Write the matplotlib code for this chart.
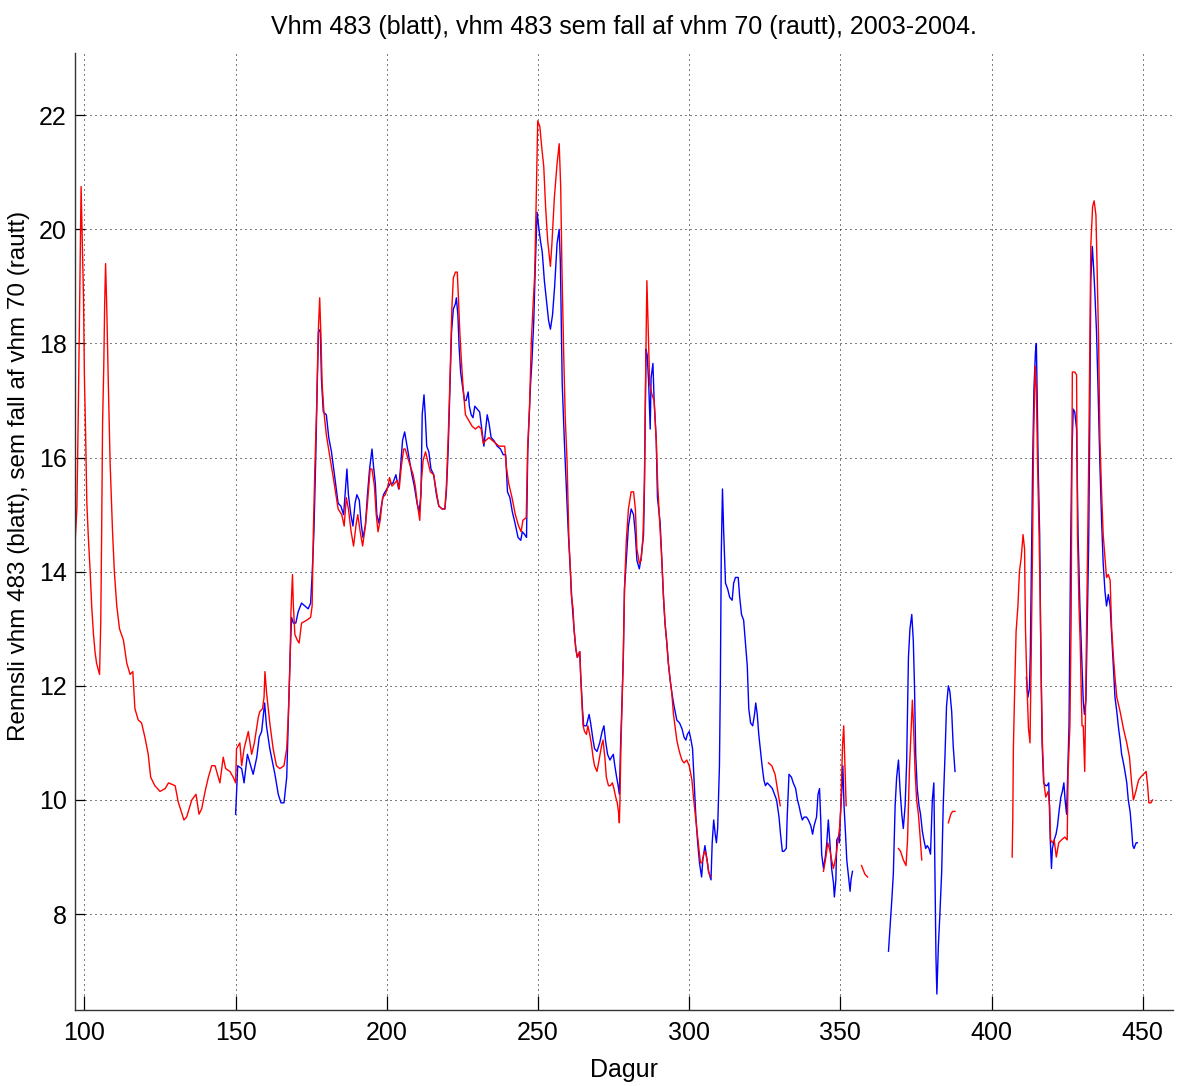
import numpy as np
import matplotlib
matplotlib.use("Agg")
import matplotlib.pyplot as plt

nan = np.nan

# Red series: vhm 483 computed from vhm 70 (days, flow)
red_day = [
    97.0, 97.5, 98.0, 98.6, 98.9, 99.2, 99.7, 100.0, 100.4, 100.8, 101.3, 101.9, 102.4, 103.0,
    103.5, 104.0, 105.0, 105.4, 105.7, 106.0, 106.4, 106.7, 107.0, 107.4, 107.9, 108.5, 109.3,
    109.9, 110.7, 111.6, 112.9, 114.0, 115.1, 116.0, 116.7, 117.8, 118.9, 120.0, 121.1, 121.9,
    123.3, 125.0, 126.7, 127.8, 130.0, 131.0, 132.9, 133.8, 135.5, 136.9, 137.9, 138.8, 139.9,
    141.0, 142.1, 143.2, 144.0, 144.8, 145.9, 146.7, 148.1, 149.2, 150.0, 150.3, 151.4, 152.0,
    152.8, 154.2, 155.3, 156.2, 157.5, 158.0, 158.9, 159.4, 159.7, 160.2, 161.3, 162.4, 163.5,
    164.6, 166.0, 166.9, 167.4, 168.0, 168.3, 168.8, 169.1, 169.6, 170.4, 171.0, 171.8, 173.5,
    174.8, 175.3, 175.7, 176.2, 176.8, 177.3, 177.8, 178.2, 178.6, 179.2, 180.0, 181.2, 182.3,
    183.9, 185.1, 185.9, 186.6, 187.3, 188.2, 189.0, 189.9, 190.4, 191.2, 192.0, 192.9, 193.6,
    194.5, 195.1, 195.9, 196.5, 197.1, 197.8, 198.6, 199.5, 200.4, 200.9, 201.7, 202.6, 203.4,
    204.1, 204.8, 205.6, 206.1, 206.9, 207.8, 208.7, 209.4, 210.2, 210.9, 211.4, 212.0, 212.8,
    213.5, 214.4, 215.5, 216.4, 217.2, 218.3, 219.2, 219.7, 220.3, 220.9, 221.5, 222.0, 222.7,
    223.3, 223.6, 224.1, 224.6, 225.2, 226.0, 227.1, 228.2, 229.3, 230.4, 231.2, 231.9, 232.7,
    233.8, 234.9, 236.0, 237.1, 238.2, 239.0, 239.5, 240.3, 241.4, 242.5, 243.6, 244.4, 245.0,
    246.1, 246.6, 247.2, 247.8, 248.3, 248.9, 249.4, 249.9, 250.6, 251.3, 251.9, 252.5, 253.2,
    254.1, 254.6, 255.4, 256.3, 257.0, 257.5, 257.9, 258.5, 259.0, 259.6, 259.9, 260.2, 260.7,
    261.0, 261.6, 261.9, 262.5, 263.0, 263.8, 264.1, 264.6, 264.9, 265.4, 266.0, 266.5, 267.1,
    267.6, 268.2, 268.7, 269.5, 270.2, 271.0, 271.5, 272.1, 272.6, 273.3, 273.9, 274.6, 275.1,
    275.7, 276.2, 276.6, 276.9, 277.1, 277.4, 277.7, 278.2, 278.6, 279.2, 279.9, 280.8, 281.6,
    282.2, 282.7, 283.5, 284.1, 284.7, 285.2, 285.7, 286.0, 286.5, 286.9, 287.7, 288.4, 289.1,
    289.6, 290.2, 290.9, 291.5, 292.0, 292.6, 293.1, 293.7, 294.2, 294.8, 295.3, 295.9, 296.5,
    297.0, 297.6, 298.3, 299.2, 300.0, 300.9, 301.4, 302.0, 302.5, 303.1, 303.7, 304.2, 304.8,
    305.3, 305.9, 306.4, 307.0, nan,
    326.2, 327.3, 328.4, 329.3, 330.1, nan,
    344.4, 345.2, 345.8, 346.6, 347.1, 347.7, 348.5, 349.2, 349.7, 350.1, 350.7, 351.1, 351.5,
    351.9, nan,
    357.0, 358.1, 359.0, nan,
    369.2, 369.9, 370.8, 371.7, 372.2, 372.8, 373.2, 373.8, 374.1, 374.7, 375.2, 375.8, 376.3,
    376.9, nan,
    385.7, 386.5, 387.1, 387.9, nan,
    406.8, 407.0, 407.2, 407.7, 408.1, 408.7, 409.2, 409.8, 410.4, 410.9, 411.2, 411.7, 412.2,
    412.7, 413.0, 413.5, 413.9, 414.4, 414.8, 415.2, 415.7, 416.1, 416.4, 416.8, 417.3, 417.9,
    418.7, 419.2, 419.5, 420.1, 420.7, 421.4, 422.2, 423.1, 424.2, 425.0, 425.3, 425.9, 426.3,
    426.7, 427.5, 428.1, 428.4, 428.9, 429.3, 429.9, 430.3, 430.8, 431.2, 431.6, 432.1, 432.5,
    432.8, 433.4, 433.9, 434.5, 434.9, 435.4, 435.8, 436.4, 436.9, 437.5, 438.0, 438.6, 439.2,
    439.7, 440.3, 440.8, 441.4, 442.5, 443.6, 444.7, 445.6, 446.3, 446.9, 447.7, 448.6, 449.3,
    450.2, 451.1, 451.6, 452.0, 452.7, 453.2,
]
red_flow = [
    14.6, 15.1, 16.9, 19.4, 20.75, 20.0, 18.8, 17.4, 16.4, 15.2, 14.6, 14.0, 13.4, 12.9,
    12.6, 12.4, 12.2, 13.1, 14.7, 16.6, 17.6, 18.7, 19.4, 18.6, 17.3, 15.9, 14.7,
    14.0, 13.4, 13.0, 12.8, 12.4, 12.2, 12.25, 11.6, 11.4, 11.35, 11.1, 10.8, 10.4,
    10.25, 10.15, 10.2, 10.3, 10.25, 9.97, 9.65, 9.7, 10.0, 10.1, 9.75, 9.85, 10.15,
    10.4, 10.6, 10.6, 10.45, 10.3, 10.75, 10.55, 10.5, 10.4, 10.3, 10.9, 11.0, 10.6,
    10.9, 11.2, 10.8, 11.0, 11.45, 11.55, 11.6, 11.8, 12.25, 11.9, 11.35, 10.9, 10.6,
    10.55, 10.6, 10.9, 11.45, 12.4, 13.3, 13.95, 13.4, 12.9, 12.8, 12.75, 13.1, 13.15,
    13.2, 13.4, 14.7, 15.8, 16.9, 18.15, 18.8, 18.15, 17.3, 16.8, 16.4, 16.0, 15.65,
    15.1, 15.0, 14.8, 15.3, 15.1, 14.7, 14.45, 14.85, 15.0, 14.7, 14.45, 14.8, 15.2,
    15.8, 15.8, 15.5, 15.0, 14.7, 14.9, 15.3, 15.35, 15.5, 15.65, 15.5, 15.55, 15.6,
    15.45, 15.85, 16.15, 16.15, 16.0, 15.85, 15.7, 15.5, 15.15, 14.9, 15.55, 15.95, 16.1,
    15.95, 15.75, 15.7, 15.4, 15.15, 15.1, 15.1, 15.5, 16.35, 17.4, 18.6, 19.15, 19.25,
    19.25, 18.9, 18.25, 17.75, 17.25, 16.75, 16.65, 16.55, 16.5, 16.55, 16.5, 16.25, 16.3,
    16.35, 16.3, 16.25, 16.2, 16.2, 16.2, 15.85, 15.55, 15.3, 15.0, 14.8, 14.7, 14.9,
    14.95, 16.2, 16.9, 18.05, 18.6, 19.2, 20.5, 21.9, 21.8, 21.4, 21.1, 20.4, 19.8,
    19.35, 19.75, 20.55, 21.15, 21.5, 20.75, 19.35, 17.8, 16.7, 15.95, 15.3, 14.6, 14.05,
    13.6, 13.35, 13.0, 12.65, 12.5, 12.6, 12.2, 11.6, 11.3, 11.2, 11.15, 11.3, 11.15,
    11.0, 10.75, 10.6, 10.5, 10.7, 10.95, 11.05, 10.75, 10.4, 10.25, 10.25, 10.3, 10.2,
    10.05, 9.95, 9.8, 9.6, 10.0, 10.9, 11.5, 12.5, 13.7, 14.55, 15.1, 15.4, 15.4,
    15.1, 14.4, 14.15, 14.2, 14.6, 15.6, 17.9, 19.1, 18.15, 17.3, 17.1, 17.0, 16.3,
    15.5, 14.9, 14.25, 13.55, 13.1, 12.75, 12.4, 12.1, 11.9, 11.5, 11.3, 11.05, 10.9,
    10.8, 10.7, 10.65, 10.7, 10.6, 10.35, 10.05, 9.75, 9.5, 9.2, 8.9, 8.9, 9.05,
    9.1, 8.95, 8.75, 8.65, nan,
    10.65, 10.6, 10.45, 10.15, 9.9, nan,
    8.75, 9.0, 9.25, 9.1, 8.95, 8.8, 9.0, 9.3, 9.5, 9.8, 10.95, 11.3, 10.6,
    9.9, nan,
    8.85, 8.7, 8.65, nan,
    9.15, 9.1, 8.95, 8.85, 9.3, 10.5, 11.0, 11.75, 11.4, 10.5, 10.0, 9.75, 9.4,
    8.95, nan,
    9.6, 9.75, 9.8, 9.8, nan,
    9.0, 9.65, 10.9, 12.1, 12.95, 13.4, 14.0, 14.25, 14.65, 14.4, 13.0, 12.0, 11.25,
    11.0, 12.15, 14.25, 16.35, 17.6, 17.2, 15.9, 14.65, 13.4, 12.15, 11.0, 10.3, 10.05,
    10.15, 9.9, 9.3, 9.25, 9.3, 9.0, 9.25, 9.3, 9.35, 9.3, 10.5, 11.3, 13.15,
    17.5, 17.5, 17.45, 14.65, 13.4, 12.75, 11.3, 11.3, 10.5, 12.15, 13.8, 15.9, 18.0,
    19.7, 20.4, 20.5, 20.25, 19.3, 18.0, 16.35, 15.35, 14.65, 14.25, 13.9, 13.95, 13.85,
    13.0, 12.5, 12.15, 11.8, 11.55, 11.25, 11.0, 10.75, 10.3, 10.0, 10.15, 10.35, 10.4,
    10.45, 10.5, 10.25, 9.95, 9.95, 10.0,
]

# Blue series: vhm 483 measured (days, flow)
blue_day = [
    150.0, 150.7, 152.0, 152.8, 153.9, 154.7, 155.8, 157.0, 157.8, 158.6, 159.6, 160.2, 161.3,
    163.0, 164.1, 165.0, 166.0, 166.9, 167.4, 168.0, 168.5, 169.1, 169.9, 170.7, 171.8, 172.9,
    174.0, 174.8, 175.3, 175.9, 176.5, 177.0, 177.4, 178.0, 178.4, 179.0, 180.0, 180.8, 181.7,
    182.8, 183.9, 184.8, 185.7, 186.2, 186.8, 187.3, 188.1, 188.8, 189.5, 190.1, 190.9, 191.5,
    192.1, 192.9, 193.6, 194.3, 195.1, 195.6, 196.2, 196.7, 197.4, 198.2, 198.9, 200.0, 201.2,
    202.0, 203.0, 203.9, 204.5, 205.2, 205.9, 206.7, 207.5, 208.3, 209.1, 210.0, 210.7, 211.3,
    211.7, 212.3, 212.7, 213.2, 213.9, 214.6, 215.5, 216.4, 217.2, 218.3, 219.2, 219.7, 220.3,
    220.9, 221.4, 222.0, 222.7, 223.0, 223.5, 223.9, 224.4, 224.9, 225.7, 226.2, 226.9, 227.3,
    227.9, 228.5, 229.1, 229.9, 230.7, 231.5, 232.1, 232.7, 233.2, 233.8, 234.5, 235.4, 236.5,
    237.6, 238.5, 239.3, 239.9, 240.7, 241.5, 242.4, 243.4, 244.3, 244.8, 245.6, 246.2, 246.6,
    247.5, 248.0, 248.6, 249.1, 249.7, 250.2, 250.8, 251.4, 252.1, 252.8, 253.5, 254.1, 254.8,
    255.5, 256.3, 257.0, 257.4, 258.0, 258.7, 259.4, 260.0, 260.7, 261.2, 261.9, 262.5, 263.0,
    263.8, 264.1, 264.7, 265.1, 266.0, 266.9, 267.4, 268.2, 268.7, 269.5, 270.4, 271.2, 271.8,
    272.3, 273.0, 273.8, 274.3, 274.9, 275.4, 276.0, 276.5, 276.9, 277.3, 277.7, 278.2, 278.6,
    279.2, 279.9, 280.8, 281.6, 282.2, 282.7, 283.5, 284.1, 284.9, 285.2, 285.7, 286.1, 286.6,
    287.1, 287.4, 288.0, 288.4, 289.1, 289.5, 290.4, 290.9, 291.5, 292.0, 292.6, 293.1, 293.7,
    294.2, 294.8, 295.9, 296.8, 297.6, 298.3, 298.9, 299.4, 300.0, 300.6, 301.1, 301.7, 302.2,
    302.8, 303.4, 304.1, 304.5, 305.2, 305.9, 306.4, 307.2, 307.6, 308.1, 308.6, 309.0, 309.4,
    310.0, 310.3, 310.6, 311.0, 311.4, 312.0, 312.7, 313.4, 314.2, 314.7, 315.3, 316.2, 316.7,
    317.3, 318.0, 318.6, 319.2, 319.7, 320.3, 321.0, 321.6, 322.0, 322.5, 323.0, 323.6, 324.1,
    324.7, 325.2, 325.8, 326.7, 327.5, 328.2, 328.9, 329.7, 330.2, 330.8, 331.3, 332.1, 332.4,
    333.0, 333.8, 334.4, 335.2, 335.8, 336.3, 336.9, 337.4, 338.0, 338.8, 339.4, 340.2, 340.8,
    341.3, 342.1, 342.6, 343.1, 343.5, 343.8, 344.4, 345.0, 345.5, 346.0, 346.6, 347.1, 347.7,
    348.0, 348.5, 348.8, 349.3, 349.7, 350.0, 350.4, 350.8, 351.2, 351.7, 352.1, 352.6, 353.2,
    353.5, 354.0, nan,
    365.9, 366.4, 367.0, 367.5, 368.1, 368.6, 369.2, 369.7, 370.3, 370.8, 371.4, 371.9, 372.5,
    373.0, 373.6, 374.1, 374.5, 374.9, 375.4, 376.0, 376.5, 377.1, 377.6, 378.2, 378.7, 379.3,
    379.8, 380.4, 380.9, 381.3, 381.6, 381.9, 382.4, 382.9, 383.5, 384.0, 384.6, 385.1, 385.7,
    386.2, 386.8, 387.3, 387.9, nan,
    411.5, 412.0, 412.5, 412.8, 413.2, 413.6, 414.0, 414.5, 414.8, 415.1, 415.4, 415.9, 416.2,
    416.7, 417.2, 417.9, 418.3, 418.9, 419.4, 419.8, 420.1, 420.7, 421.3, 421.8, 422.3, 422.9,
    423.4, 423.9, 424.3, 424.8, 425.2, 425.6, 426.1, 426.5, 427.0, 427.5, 428.1, 428.6, 429.2,
    429.7, 430.3, 430.7, 431.2, 431.6, 432.1, 432.5, 432.8, 433.3, 433.7, 434.1, 434.7, 435.2,
    435.8, 436.4, 436.9, 437.5, 438.0, 438.6, 439.2, 439.7, 440.3, 440.8, 441.4, 442.0, 442.5,
    443.0, 443.6, 444.1, 444.7, 445.2, 445.8, 446.2, 446.7, 447.1, 447.8, 448.2,
]
blue_flow = [
    9.75, 10.6, 10.55, 10.3, 10.8, 10.65, 10.45, 10.75, 11.1, 11.2, 11.7, 11.3, 10.9,
    10.45, 10.1, 9.95, 9.95, 10.4, 11.35, 12.5, 13.2, 13.1, 13.1, 13.3, 13.45, 13.4,
    13.35, 13.45, 13.95, 14.7, 16.0, 17.3, 18.2, 18.25, 17.35, 16.8, 16.75, 16.35, 16.1,
    15.65, 15.2, 15.15, 15.0, 15.35, 15.8, 15.35, 15.0, 14.8, 15.2, 15.35, 15.25, 14.85,
    14.6, 14.8, 15.35, 15.8, 16.15, 15.85, 15.55, 15.0, 14.85, 15.15, 15.35, 15.45, 15.55,
    15.55, 15.7, 15.45, 15.8, 16.3, 16.45, 16.2, 15.95, 15.7, 15.5, 15.2, 15.05, 15.35,
    16.75, 17.1, 16.75, 16.2, 16.1, 15.8, 15.7, 15.35, 15.15, 15.1, 15.1, 15.4, 16.15,
    17.25, 18.2, 18.6, 18.7, 18.8, 18.5, 17.95, 17.5, 17.3, 17.0, 17.0, 17.15, 16.9,
    16.75, 16.7, 16.9, 16.85, 16.8, 16.45, 16.2, 16.5, 16.75, 16.6, 16.35, 16.3, 16.2,
    16.15, 16.05, 16.05, 15.4, 15.3, 15.05, 14.85, 14.6, 14.55, 14.7, 14.65, 14.6, 16.1,
    17.25, 17.7, 18.4, 19.35, 20.3, 20.05, 19.8, 19.6, 19.1, 18.75, 18.4, 18.25, 18.5,
    19.0, 19.75, 20.0, 19.4, 17.3, 16.3, 15.45, 14.7, 14.0, 13.5, 13.0, 12.65, 12.5,
    12.6, 12.2, 11.6, 11.3, 11.3, 11.5, 11.35, 11.05, 10.9, 10.85, 11.0, 11.2, 11.3,
    11.05, 10.8, 10.7, 10.75, 10.8, 10.6, 10.4, 10.25, 10.1, 10.95, 11.6, 12.5, 13.7,
    14.2, 14.8, 15.1, 15.0, 14.65, 14.2, 14.05, 14.25, 14.65, 15.5, 17.9, 17.8, 17.3,
    16.5, 17.4, 17.65, 17.0, 16.3, 15.3, 14.85, 14.25, 13.55, 13.1, 12.75, 12.4, 12.1,
    11.9, 11.7, 11.4, 11.35, 11.25, 11.1, 11.05, 11.15, 11.2, 11.05, 10.9, 10.25, 9.7,
    9.25, 8.9, 8.65, 8.95, 9.2, 8.95, 8.75, 8.6, 9.25, 9.65, 9.4, 9.25, 9.5,
    10.6, 12.05, 14.3, 15.45, 14.7, 13.8, 13.7, 13.55, 13.5, 13.8, 13.9, 13.9, 13.55,
    13.25, 13.15, 12.75, 12.35, 11.6, 11.35, 11.3, 11.5, 11.7, 11.5, 11.15, 10.85, 10.6,
    10.35, 10.25, 10.3, 10.25, 10.2, 10.1, 10.0, 9.7, 9.4, 9.1, 9.1, 9.15, 9.7,
    10.45, 10.4, 10.3, 10.2, 10.0, 9.9, 9.75, 9.65, 9.7, 9.7, 9.65, 9.55, 9.4,
    9.55, 9.7, 10.1, 10.2, 9.65, 9.05, 8.8, 9.0, 9.25, 9.65, 9.2, 8.8, 8.55,
    8.3, 8.6, 9.3, 9.35, 9.25, 9.75, 10.1, 10.6, 9.9, 9.4, 8.95, 8.7, 8.4,
    8.6, 8.75, nan,
    7.35, 7.75, 8.25, 8.7, 9.9, 10.4, 10.7, 10.2, 9.75, 9.5, 9.9, 10.65, 12.5,
    13.0, 13.25, 12.8, 12.0, 10.8, 10.2, 9.9, 9.75, 9.45, 9.3, 9.15, 9.2, 9.15,
    9.05, 10.0, 10.3, 8.5, 7.25, 6.6, 7.45, 8.0, 8.75, 9.9, 10.8, 11.65, 12.0,
    11.9, 11.55, 10.95, 10.5, nan,
    12.15, 11.8, 11.95, 12.55, 14.25, 16.0, 17.2, 17.85, 18.0, 17.0, 15.85, 14.65, 13.0,
    11.0, 10.3, 10.25, 10.25, 10.3, 9.3, 8.8, 9.15, 9.3, 9.4, 9.55, 9.8, 10.05,
    10.15, 10.3, 10.0, 9.75, 10.5, 11.3, 14.25, 16.0, 16.85, 16.8, 16.5, 14.65, 13.4,
    12.65, 11.75, 11.5, 11.75, 13.0, 14.5, 16.85, 19.1, 19.7, 19.35, 18.95, 18.2, 17.2,
    15.9, 14.85, 14.15, 13.65, 13.4, 13.6, 13.4, 12.9, 12.3, 11.8, 11.55, 11.25, 11.05,
    10.8, 10.65, 10.5, 10.3, 10.0, 9.8, 9.55, 9.2, 9.15, 9.25, 9.25,
]

x_ticks = [100, 150, 200, 250, 300, 350, 400, 450]
y_ticks = [8, 10, 12, 14, 16, 18, 20, 22]

title = "Vhm 483 (blatt), vhm 483 sem fall af vhm 70 (rautt), 2003-2004."
xlabel = "Dagur"
ylabel = "Rennsli vhm 483 (blatt), sem fall af vhm 70 (rautt)"

plt.rcParams['font.family'] = ['Liberation Sans', 'DejaVu Sans']

fig = plt.figure(figsize=(11.8, 10.86), dpi=100)
ax = fig.add_axes([0.0636, 0.0700, 0.9305, 0.8812])

ax.plot(blue_day, blue_flow, color='#0000ff', lw=1.0)
ax.plot(red_day, red_flow, color='#ff0000', lw=1.0)

ax.set_xlim(96.9, 460.0)
ax.set_ylim(6.32, 23.09)
ax.set_xticks(x_ticks)
ax.set_yticks(y_ticks)
ax.grid(True, color='black', linestyle=(0, (1, 4)), linewidth=0.72)

for s in ['top', 'right']:
    ax.spines[s].set_visible(False)
for s in ['left', 'bottom']:
    ax.spines[s].set_color('#333333')
    ax.spines[s].set_linewidth(1.0)

ax.tick_params(axis='x', direction='in', length=10, width=0.9, labelsize=18, pad=8, colors='black')
ax.tick_params(axis='y', direction='in', length=7, width=0.9, labelsize=18, pad=6, colors='black')

ax.set_title(title, fontsize=18, pad=14)
ax.set_xlabel(xlabel, fontsize=18, labelpad=9)
ax.set_ylabel(ylabel, fontsize=17.5)
ax.yaxis.set_label_coords(-0.041, 0.558)

fig.savefig("out.png", dpi=100)
